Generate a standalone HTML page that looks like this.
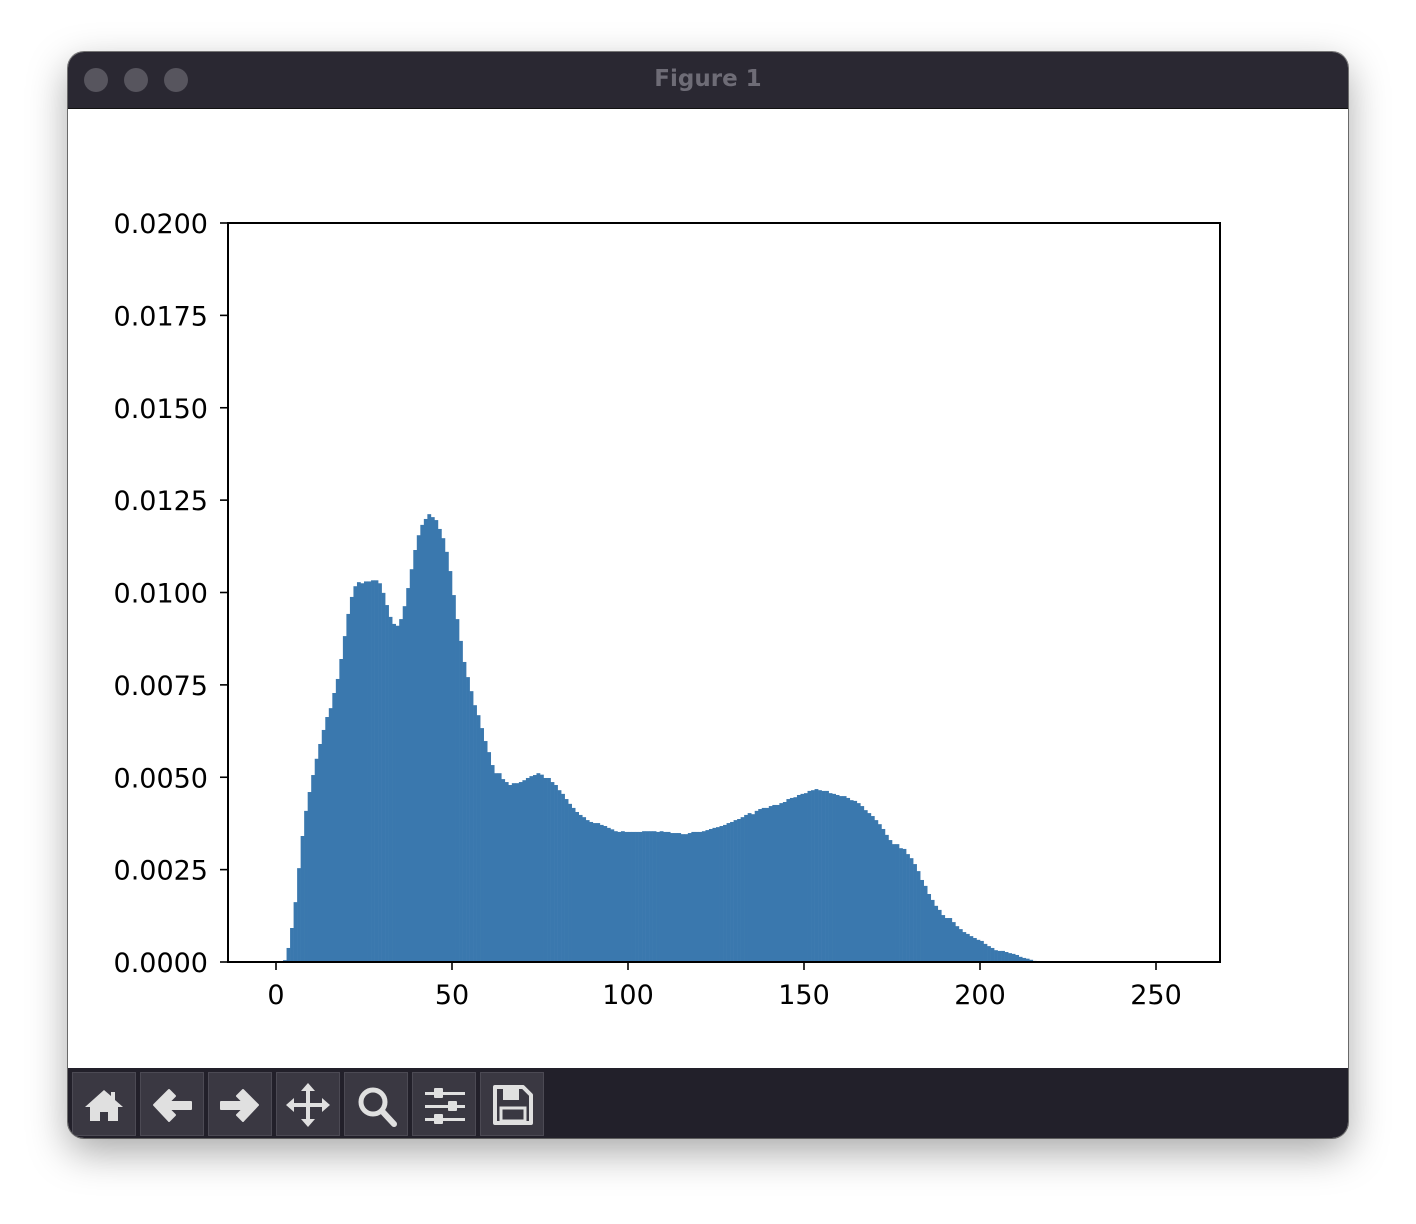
<!DOCTYPE html>
<html><head><meta charset="utf-8"><style>
html,body{margin:0;padding:0;width:1416px;height:1224px;background:#fff;overflow:hidden;font-family:"DejaVu Sans","Liberation Sans",sans-serif}
#win{position:absolute;left:68px;top:52px;width:1280px;height:1086px;border-radius:16px;overflow:hidden;box-shadow:0 14px 40px rgba(0,0,0,0.35),0 0 0 1px rgba(0,0,0,0.5);background:#fff}
#title{position:absolute;left:0;top:0;width:1280px;height:56px;background:#2a2832;border-bottom:1px solid #111}
.dot{position:absolute;top:16px;width:24px;height:24px;border-radius:50%;background:#57555e}
#ttext{position:absolute;left:0;width:1280px;top:14px;text-align:center;color:#6e6c76;font:bold 23px "DejaVu Sans","Liberation Sans",sans-serif}
#tool{position:absolute;left:0;top:1016px;width:1280px;height:70px;background:#22202a}
.btn{position:absolute;top:4px;width:64px;height:64px;background:#3a3842;border:1px solid #4c4a54;box-sizing:border-box}
.btn svg{position:absolute;left:0;top:0}
</style></head><body>
<div id="win">
 <div id="title">
  <div class="dot" style="left:16px"></div>
  <div class="dot" style="left:56px"></div>
  <div class="dot" style="left:96px"></div>
  <div id="ttext">Figure 1</div>
 </div>
 <svg id="chart" width="1280" height="960" style="position:absolute;left:0;top:56px" xmlns="http://www.w3.org/2000/svg"></svg>
 <div id="tool">
  <div class="btn" style="left:4px"><svg width="62" height="62"><path d="M31 17 L12 34 L17 34 L17 48 L27 48 L27 39 L35 39 L35 48 L45 48 L45 34 L50 34 L42 27 L42 19 L38 19 L38 23 Z" fill="#e0e0e0"/></svg></div>
  <div class="btn" style="left:72px"><svg width="62" height="62"><path d="M13 32 L28 17 L34 23 L28 29 L50 29 L50 36 L28 36 L34 42 L28 48 Z" fill="#e0e0e0" stroke="#e0e0e0" stroke-width="2" stroke-linejoin="round"/></svg></div>
  <div class="btn" style="left:140px"><svg width="62" height="62"><path d="M49 32 L34 17 L28 23 L34 29 L12 29 L12 36 L34 36 L28 42 L34 48 Z" fill="#e0e0e0" stroke="#e0e0e0" stroke-width="2" stroke-linejoin="round"/></svg></div>
  <div class="btn" style="left:208px"><svg width="62" height="62"><path d="M31 10 L38 18 L33 18 L33 30 L45 30 L45 25 L53 32 L45 39 L45 34 L33 34 L33 46 L38 46 L31 54 L24 46 L29 46 L29 34 L17 34 L17 39 L9 32 L17 25 L17 30 L29 30 L29 18 L24 18 Z" fill="#e0e0e0"/></svg></div>
  <div class="btn" style="left:276px"><svg width="62" height="62"><circle cx="28" cy="29" r="12" fill="none" stroke="#e0e0e0" stroke-width="5"/><line x1="37" y1="38" x2="49" y2="51" stroke="#e0e0e0" stroke-width="6" stroke-linecap="round"/></svg></div>
  <div class="btn" style="left:344px"><svg width="62" height="62" fill="#e0e0e0"><rect x="12" y="19" width="40" height="3"/><rect x="12" y="32" width="40" height="3"/><rect x="12" y="45" width="40" height="3"/><rect x="21" y="15" width="9" height="10" rx="1"/><rect x="35" y="28" width="9" height="10" rx="1"/><rect x="21" y="41" width="9" height="10" rx="1"/></svg></div>
  <div class="btn" style="left:412px"><svg width="62" height="62"><path d="M14 14 L42 14 L50 22 L50 50 L14 50 Z" fill="none" stroke="#e0e0e0" stroke-width="4" stroke-linejoin="round"/><rect x="22" y="16" width="16" height="11" fill="#e0e0e0"/><rect x="20" y="35" width="24" height="13" fill="none" stroke="#e0e0e0" stroke-width="3"/></svg></div>
 </div>
</div>
<script>
const binValues=[0,0,0.00005,0.00038,0.00092,0.00162,0.00254,0.00341,0.00409,0.0046,
0.00506,0.0055,0.0059,0.00628,0.00663,0.00687,0.00728,0.00766,0.0082,0.00882,
0.00942,0.00988,0.01017,0.01028,0.01025,0.0103,0.0103,0.01033,0.01033,0.01025,
0.00999,0.00966,0.00934,0.00915,0.0091,0.00928,0.00963,0.01012,0.01063,0.01115,
0.01155,0.01183,0.01199,0.01212,0.01204,0.01196,0.01172,0.01147,0.0111,0.01058,
0.00993,0.00928,0.00869,0.00812,0.00771,0.00733,0.00695,0.00668,0.00633,0.00598,
0.00568,0.00533,
0.00511,0.00511,0.00495,0.00487,0.00479,0.00484,0.00484,0.00487,0.00492,0.00498,
0.00503,0.00506,0.00511,0.00507,0.00498,0.00498,0.00487,0.00479,0.00465,0.00455,
0.00441,0.00428,0.00417,0.00406,0.00398,0.00392,0.00384,0.00379,0.00376,0.00376,
0.00371,0.00368,0.00363,0.00359,0.00354,0.00352,0.00354,0.00352,0.00352,0.00352,
0.00352,0.00352,0.00354,0.00354,0.00354,0.00354,0.00352,0.00354,0.00352,
0.00352,0.00349,0.00349,0.00349,0.00346,0.00346,0.00349,0.00352,0.00352,0.00352,
0.00354,0.00357,0.0036,0.00363,0.00365,0.00368,0.00371,0.00376,0.00379,0.00384,
0.00387,0.00392,0.00398,0.00403,0.004,0.00409,0.00414,0.00417,0.00417,
0.00422,0.00425,0.00425,0.0043,0.00433,0.00441,0.00444,0.00446,0.00452,
0.00455,0.00457,0.00463,0.00465,0.00468,0.00465,0.00463,0.00463,0.00457,0.00455,
0.00452,0.00449,0.00449,0.00444,0.00438,0.00436,0.0043,0.00422,0.00411,0.00403,
0.00395,0.00384,0.00373,0.0036,0.00344,0.0033,0.00319,0.00319,0.00308,0.00306,
0.00292,0.00281,0.00265,0.00246,0.00222,0.00206,0.00184,0.00168,0.00152,0.00141,
0.00127,0.00119,0.00119,0.00108,0.00097,0.00089,0.00081,0.00076,0.0007,0.00065,
0.0006,0.00057,0.00049,0.00043,0.00038,0.00032,0.0003,0.0003,0.00027,0.00024,
0.00022,0.00019,0.00014,0.00011,0.00009,0.00006,0.00003,0.00001];
const xTicks=[0,50,100,150,200,250];
const yTicks=[0,0.0025,0.005,0.0075,0.01,0.0125,0.015,0.0175,0.02];
const yTickLabels=["0.0000","0.0025","0.0050","0.0075","0.0100","0.0125","0.0150","0.0175","0.0200"];

const NS="http://www.w3.org/2000/svg";
const svg=document.getElementById('chart');
const L=160,R=1152,T=115,B=854;
function xs(v){return 208+3.52*v;}
function ys(v){return B-(v/0.02)*(B-T);}
function mk(tag,attrs){const e=document.createElementNS(NS,tag);for(const k in attrs)e.setAttribute(k,attrs[k]);svg.appendChild(e);return e;}

const g=document.createElementNS(NS,'g');svg.appendChild(g);


binValues.forEach((v,i)=>{
  if(v<=0)return;
  const r=document.createElementNS(NS,'rect');
  const x0=xs(i),x1=xs(i+1),y=ys(v);
  r.setAttribute('x',x0);r.setAttribute('width',x1-x0+0.3);
  r.setAttribute('y',y);r.setAttribute('height',B-y);
  r.setAttribute('fill','#3a78ae');
  
  
  g.appendChild(r);
});

const frame=mk('rect',{x:L,y:T,width:R-L,height:B-T,fill:'none',stroke:'#000','stroke-width':2});



xTicks.forEach(t=>{
  const x=xs(t);
  const l=mk('line',{x1:x,x2:x,y1:B,y2:B+8,stroke:'#000','stroke-width':1.6});
  
  
  const tx=mk('text',{x:x,y:B+42,'text-anchor':'middle','font-size':'27','font-family':'DejaVu Sans, Liberation Sans, sans-serif',fill:'#000'});
  tx.textContent=String(t);
  
  
});
yTicks.forEach((t,i)=>{
  const y=ys(t);
  const l=mk('line',{x1:L-8,x2:L,y1:y,y2:y,stroke:'#000','stroke-width':1.6});
  
  
  const tx=mk('text',{x:L-20,y:y+10,'text-anchor':'end','font-size':'27','font-family':'DejaVu Sans, Liberation Sans, sans-serif',fill:'#000'});
  tx.textContent=yTickLabels[i];
  
  
});
</script>
</body></html>
